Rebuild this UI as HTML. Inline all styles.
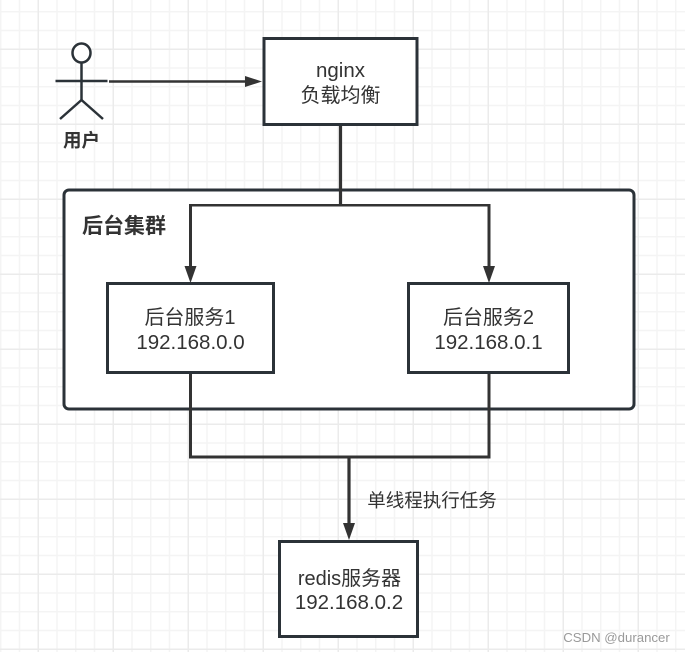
<!DOCTYPE html>
<html lang="zh">
<head>
<meta charset="utf-8">
<style>
html,body{margin:0;padding:0;background:#fff}
body{width:685px;height:652px;overflow:hidden;position:relative}
#grid{position:absolute;left:0;top:0;width:685px;height:652px;
background-color:#fff;
background-image:
linear-gradient(to right,#ebebeb 0,#ebebeb 1.5px,transparent 1.5px),
linear-gradient(to bottom,#ebebeb 0,#ebebeb 1.5px,transparent 1.5px),
linear-gradient(to right,#f4f4f4 0,#f4f4f4 1.5px,transparent 1.5px),
linear-gradient(to bottom,#f4f4f4 0,#f4f4f4 1.5px,transparent 1.5px);
background-size:75px 75px,75px 75px,18.75px 18.75px,18.75px 18.75px;
background-position:37.5px 0,0 48.5px,0 0,0 11px;}
svg{position:absolute;left:0;top:0}
text{font-family:"Liberation Sans","Noto Sans CJK SC",sans-serif;fill:#333;text-anchor:middle}
</style>
</head>
<body>
<div id="grid"></div>
<svg width="685" height="652" viewBox="0 0 685 652" xmlns="http://www.w3.org/2000/svg">
  <!-- Cluster container -->
  <rect x="64" y="190" width="570" height="219" rx="5" ry="5" fill="#fff" stroke="#2b3238" stroke-width="3"/>

  <!-- Actor -->
  <ellipse cx="81.5" cy="53" rx="9" ry="9.5" fill="#fff" stroke="#2b3238" stroke-width="2.5"/>
  <g stroke="#2b3238" stroke-width="2.5" fill="none">
    <line x1="81.5" y1="62" x2="81.5" y2="100"/>
    <line x1="55.5" y1="81" x2="107.5" y2="81"/>
    <polyline points="60,119 81.5,100 103,119"/>
  </g>

  <!-- Connectors -->
  <g stroke="#333" fill="none">
    <line x1="109" y1="81.5" x2="248" y2="81.5" stroke-width="2.5"/>
    <line x1="340.5" y1="124" x2="340.5" y2="205" stroke-width="3.2"/>
    <line x1="190.5" y1="204" x2="190.5" y2="268" stroke-width="3"/>
    <line x1="489" y1="204" x2="489" y2="268" stroke-width="3"/>
    <line x1="189" y1="205.3" x2="490.5" y2="205.3" stroke-width="2.5"/>
    <polyline points="190.5,373 190.5,457 489,457 489,373" stroke-width="3"/>
    <line x1="349" y1="457" x2="349" y2="525" stroke-width="3.2"/>
  </g>
  <g fill="#333" stroke="none">
    <polygon points="262,81.5 245,76 245,87"/>
    <polygon points="190.5,283 184.5,266 196.5,266"/>
    <polygon points="489,283 483,266 495,266"/>
    <polygon points="349,540 343,523 355,523"/>
  </g>

  <!-- Boxes -->
  <g fill="#fff" stroke="#2b3238" stroke-width="3">
    <rect x="264" y="38.5" width="153" height="86"/>
    <rect x="107.5" y="283.5" width="166" height="89"/>
    <rect x="408.5" y="283.5" width="160" height="89"/>
    <rect x="279.5" y="541.5" width="138" height="95"/>
  </g>

  <!-- Labels -->
  <text x="340.5" y="77" font-size="20.5">nginx</text>
  <text x="340.5" y="102" font-size="20">负载均衡</text>
  <text x="81.5" y="147" font-size="18.5" font-weight="bold">用户</text>
  <text x="124" y="233" font-size="21" font-weight="bold">后台集群</text>
  <text x="190" y="324" font-size="20">后台服务1</text>
  <text x="190.5" y="349" font-size="20.5">192.168.0.0</text>
  <text x="488.5" y="324" font-size="20">后台服务2</text>
  <text x="488.5" y="349" font-size="20.5">192.168.0.1</text>
  <text x="349.5" y="585" font-size="20">redis服务器</text>
  <text x="349" y="609" font-size="20.5">192.168.0.2</text>
  <text x="432" y="507" font-size="18.5">单线程执行任务</text>
  <text x="616.5" y="642" font-size="13.2" style="fill:#9a9a9a">CSDN @durancer</text>
</svg>
</body>
</html>
